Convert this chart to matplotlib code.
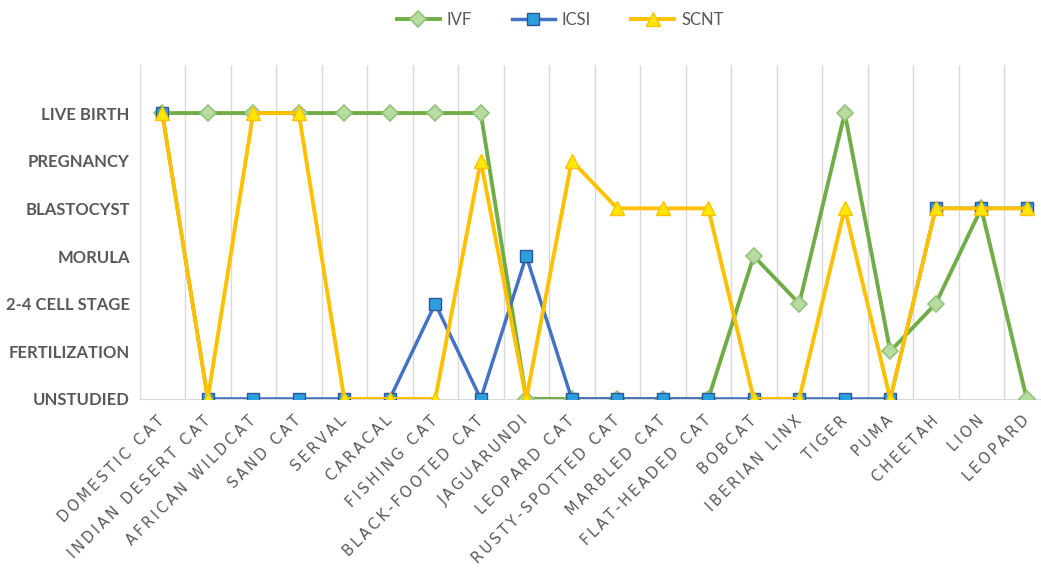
import matplotlib.pyplot as plt

species = ["DOMESTIC CAT", "INDIAN DESERT CAT", "AFRICAN WILDCAT", "SAND CAT", "SERVAL",
           "CARACAL", "FISHING CAT", "BLACK-FOOTED CAT", "JAGUARUNDI", "LEOPARD CAT",
           "RUSTY-SPOTTED CAT", "MARBLED CAT", "FLAT-HEADED CAT", "BOBCAT", "IBERIAN LINX",
           "TIGER", "PUMA", "CHEETAH", "LION", "LEOPARD"]
stages = ["UNSTUDIED", "FERTILIZATION", "2-4 CELL STAGE", "MORULA",
          "BLASTOCYST", "PREGNANCY", "LIVE BIRTH"]

# stage index reached per species (0 = unstudied ... 6 = live birth)
ivf = [6, 6, 6, 6, 6, 6, 6, 6, 0, 0, 0, 0, 0, 3, 2, 6, 1, 2, 4, 0]
icsi = [6, 0, 0, 0, 0, 0, 2, 0, 3, 0, 0, 0, 0, 0, 0, 0, 0, 4, 4, 4]
scnt = [6, 0, 6, 6, 0, 0, 0, 5, 0, 5, 4, 4, 4, 0, 0, 4, 0, 4, 4, 4]

text_gray = "#595959"


def spaced(s):
    # tracked-out caps for the category axis
    return "\u2009".join(s)


fig = plt.figure(figsize=(10.41, 5.79), dpi=100)
ax = fig.add_axes([139.5 / 1041, 0.311, 910 / 1041, 0.576])

x = range(len(species))
ax.plot(x, ivf, color="#70AD47", lw=2.8, marker="D", ms=8,
        mfc="#B8DBA0", mec="#93C47D", mew=1.2, label="IVF", zorder=3)
ax.plot(x, icsi, color="#4472C4", lw=2.5, marker="s", ms=9,
        mfc="#2A9FDE", mec="#2F5597", mew=1.0, label="ICSI", zorder=4)
ax.plot(x, scnt, color="#FFC000", lw=2.8, marker="^", ms=10,
        mfc="#FFE800", mec="#FFC000", mew=1.0, label="SCNT", zorder=5)

ax.set_xlim(-0.5, len(species) - 0.5)
ax.set_ylim(0, 7)

# category separators
for b in range(len(species) + 1):
    ax.axvline(b - 0.5, color="#D9D9D9", lw=1, zorder=1)

for s in ["top", "right", "left"]:
    ax.spines[s].set_visible(False)
ax.spines["bottom"].set_color("#D9D9D9")
ax.spines["bottom"].set_zorder(2)

ax.set_yticks(range(len(stages)))
ax.set_yticklabels(stages, family="Lato", fontsize=12, fontweight="bold", color=text_gray)
ax.tick_params(axis="y", length=0, pad=7)

ax.set_xticks(list(x))
ax.set_xticklabels([spaced(s) for s in species], rotation=45, ha="right", va="center",
                   rotation_mode="anchor", fontsize=10.5, color=text_gray)
ax.tick_params(axis="x", length=0, pad=14)

leg = fig.legend(loc="center", bbox_to_anchor=(0.538, 0.965), ncol=3, frameon=False,
                 handlelength=2.6, columnspacing=2.4, handletextpad=0.4,
                 prop={"family": "Lato", "size": 12})
for t in leg.get_texts():
    t.set_color(text_gray)

fig.savefig("out.png", dpi=100)
plt.close(fig)
